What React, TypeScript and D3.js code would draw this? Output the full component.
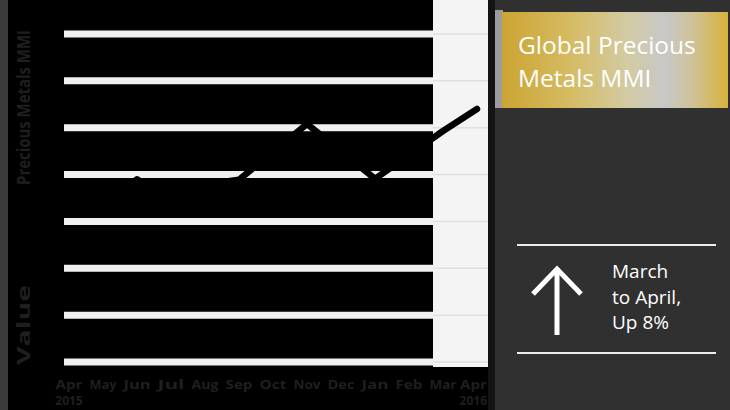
import React from "react";
import * as d3 from "d3";

const months = ["Apr", "May", "Jun", "Jul", "Aug", "Sep", "Oct", "Nov", "Dec", "Jan", "Feb", "Mar", "Apr"];
const values = [45.1, 42.9, 49.0, 44.4, 47.9, 48.9, 54.8, 60.8, 55.0, 49.1, 54.2, 59.3, 64.0];
const yTicks = [10, 20, 30, 40, 50, 60, 70, 80];
const yearLabels = ["2015", "2016"];
const axisTitles = ["Value", "Precious Metals MMI"];
const titleLines = ["Global Precious", "Metals MMI"];
const changeLines = ["March", "to April,", "Up 8%"];

const W = 730;
const H = 410;

export default function App() {
  const idx = months.map((_, i) => i);
  const x = d3.scalePoint<number>().domain(idx).range([69, 477]);
  const y = d3.scaleLinear().domain([10, 80]).range([362, 34]);
  const line = d3
    .line<number>()
    .x((_, i) => x(i) as number)
    .y((d) => y(d));

  const font = "'Open Sans', 'Noto Sans', sans-serif";
  const dim = "#1f1f1f";
  const last = months.length - 1;

  return (
    <svg
      width={W}
      height={H}
      style={{ position: "absolute", left: 0, top: 0, display: "block" }}
      fontFamily={font}
    >
      <defs>
        <linearGradient id="gold" x1="0" x2="1" y1="0" y2="0">
          <stop offset="0%" stopColor="#cca433" />
          <stop offset="30%" stopColor="#d5bb62" />
          <stop offset="55%" stopColor="#d3caa2" />
          <stop offset="72%" stopColor="#c8c8c8" />
          <stop offset="84%" stopColor="#cfc29a" />
          <stop offset="100%" stopColor="#d8b23a" />
        </linearGradient>
      </defs>
      {/* background */}
      <rect x={0} y={0} width={W} height={H} fill="#000" />
      <rect x={0} y={0} width={8} height={H} fill="#3b3b3b" />

      {/* right panel */}
      <rect x={488} y={0} width={7} height={H} fill="#141414" />
      <rect x={495} y={0} width={W - 495} height={H} fill="#303030" />

      {/* right highlight band */}
      <rect x={433} y={0} width={55} height={367} fill="#f4f4f4" />
      {yTicks.map((t) => (
        <line key={"b" + t} x1={433} x2={488} y1={y(t)} y2={y(t)} stroke="#e0e0e0" strokeWidth={1.5} />
      ))}

      {/* grid lines */}
      {yTicks.map((t) => (
        <line key={t} x1={64} x2={433} y1={y(t)} y2={y(t)} stroke="#f0f0f0" strokeWidth={7} />
      ))}

      {/* data line */}
      <path
        d={line(values) || ""}
        fill="none"
        stroke="#000"
        strokeWidth={6.5}
        strokeLinecap="round"
        strokeLinejoin="round"
      />

      {/* dim axis texts */}
      <text
        transform={`translate(30,365) rotate(-90)`}
        fontSize={17}
        fontWeight={700}
        fill={dim}
        textLength={80}
        lengthAdjust="spacingAndGlyphs"
      >
        {axisTitles[0]}
      </text>
      <text
        transform={`translate(30,185) rotate(-90)`}
        fontSize={17}
        fontWeight={700}
        fill={dim}
        textLength={155}
        lengthAdjust="spacingAndGlyphs"
      >
        {axisTitles[1]}
      </text>
      {months.map((m, i) => (
        <text
          key={"m" + i}
          x={i === last ? 487 : (x(i) as number)}
          y={389}
          fontSize={13}
          fontWeight={700}
          fill={dim}
          textAnchor={i === last ? "end" : "middle"}
          textLength={27}
          lengthAdjust="spacingAndGlyphs"
        >
          {m}
        </text>
      ))}
      <text x={x(0) as number} y={405} fontSize={12} fontWeight={700} fill={dim} textAnchor="middle">
        {yearLabels[0]}
      </text>
      <text x={487} y={405} fontSize={12} fontWeight={700} fill={dim} textAnchor="end">
        {yearLabels[1]}
      </text>

      {/* title box */}
      <rect x={495} y={10} width={8} height={98} fill="#9c9c9c" />
      <rect x={502} y={12} width={226} height={96} fill="url(#gold)" />
      {titleLines.map((t, i) => (
        <text key={t} x={518} y={54 + i * 33} fontSize={24.5} fill="#ffffff">
          {t}
        </text>
      ))}

      <line x1={517} x2={716} y1={245} y2={245} stroke="#ececec" strokeWidth={2} />
      <line x1={517} x2={716} y1={353} y2={353} stroke="#ececec" strokeWidth={2} />
      <line x1={557} x2={557} y1={270} y2={335} stroke="#fff" strokeWidth={5} />
      <polyline points="533,294 557,269 581,294" fill="none" stroke="#fff" strokeWidth={5} />
      {changeLines.map((t, i) => (
        <text key={t} x={612} y={278 + i * 25.5} fontSize={19} fill="#ffffff">
          {t}
        </text>
      ))}
    </svg>
  );
}
